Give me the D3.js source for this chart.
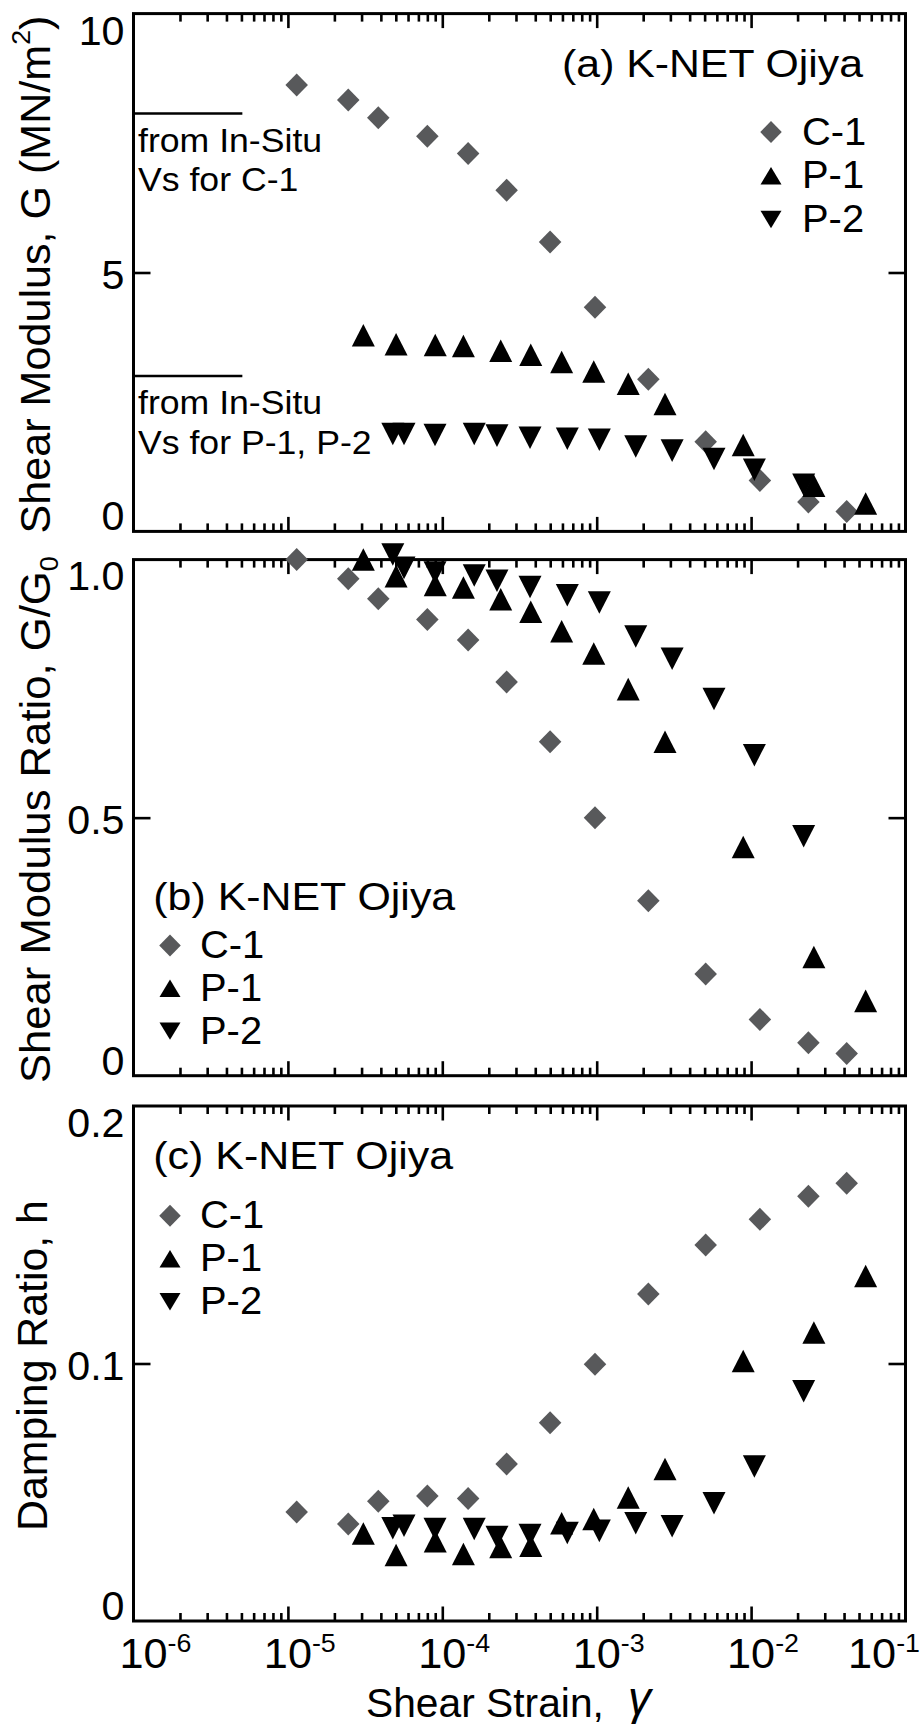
<!DOCTYPE html>
<html><head><meta charset="utf-8">
<script src="https://cdn.jsdelivr.net/npm/d3@7"></script>
<style>
body{margin:0;background:#fff}
svg{display:block}
text{font-family:"Liberation Sans",Arial,Helvetica,sans-serif;fill:#000}
</style>
</head><body>
<svg id="c" width="922" height="1726"></svg>
<script>
// ---------------- DATA ----------------
const seriesNames = ["C-1", "P-1", "P-2"];

const strainC1 = [1.14e-5, 2.46e-5, 3.85e-5, 8.0e-5, 1.47e-4, 2.61e-4, 4.99e-4, 9.75e-4, 2.16e-3, 5.08e-3, 1.14e-2, 2.35e-2, 4.16e-2];
const strainP1 = [3.08e-5, 5.02e-5, 9.0e-5, 1.37e-4, 2.39e-4, 3.74e-4, 5.93e-4, 9.57e-4, 1.60e-3, 2.77e-3, 8.89e-3, 2.55e-2, 5.52e-2];
const strainP2 = [4.78e-5, 5.65e-5, 8.97e-5, 1.61e-4, 2.26e-4, 3.70e-4, 6.45e-4, 1.04e-3, 1.79e-3, 3.08e-3, 5.75e-3, 1.05e-2, 2.19e-2];

// (a) Shear modulus G (MN/m2)
const gC1 = [8.62, 8.33, 7.99, 7.63, 7.30, 6.59, 5.59, 4.33, 2.94, 1.73, 0.985, 0.57, 0.386];
const gP1 = [3.79, 3.615, 3.60, 3.58, 3.49, 3.41, 3.27, 3.09, 2.85, 2.46, 1.67, 0.88, 0.54];
const gP2 = [1.88, 1.88, 1.86, 1.88, 1.85, 1.81, 1.79, 1.77, 1.64, 1.56, 1.40, 1.19, 0.90];

// (b) G/G0
const rC1 = [1.0, 0.963, 0.924, 0.884, 0.844, 0.763, 0.647, 0.50, 0.339, 0.197, 0.109, 0.064, 0.043];
const rP1 = [1.0, 0.968, 0.951, 0.946, 0.923, 0.899, 0.861, 0.818, 0.749, 0.647, 0.443, 0.230, 0.145];
const rP2 = [1.01, 0.984, 0.975, 0.969, 0.959, 0.947, 0.931, 0.917, 0.851, 0.808, 0.730, 0.621, 0.464];

// (c) damping ratio h
const hC1 = [0.0423, 0.0377, 0.0465, 0.0485, 0.0476, 0.061, 0.077, 0.0997, 0.127, 0.146, 0.156, 0.165, 0.170];
const hP1 = [0.034, 0.0256, 0.031, 0.026, 0.0287, 0.0292, 0.038, 0.0396, 0.048, 0.059, 0.101, 0.112, 0.134];
const hP2 = [0.036, 0.037, 0.0357, 0.0357, 0.0326, 0.0334, 0.0342, 0.035, 0.038, 0.0368, 0.0457, 0.060, 0.0892];

// in-situ Vs reference levels in (a)
const inSituG = [8.07, 3.0];
const inSituStrainEnd = 5.07e-6;
const inSituText = [["from In-Situ", "Vs for C-1"], ["from In-Situ", "Vs for P-1, P-2"]];

// axes
const xDecades = [-6, -5, -4, -3, -2, -1];
const yTicksA = [0, 5, 10],     yLabelsA = ["0", "5", "10"];
const yTicksB = [0, 0.5, 1.0],  yLabelsB = ["0", "0.5", "1.0"];
const yTicksC = [0, 0.1, 0.2],  yLabelsC = ["0", "0.1", "0.2"];
const panelTags = ["(a) K-NET Ojiya", "(b) K-NET Ojiya", "(c) K-NET Ojiya"];

// ---------------- LAYOUT ----------------
const svg = d3.select("#c");
const X0 = 133.5, X1 = 905.5;
const x = d3.scaleLog().domain([1e-6, 1e-1]).range([X0, X1]);
const GRAY = "#58595b";

function stretch(el, sx) {
  const t = d3.select(el);
  const px = +t.attr("x") || 0, py = +t.attr("y") || 0;
  t.attr("transform", `translate(${px},${py}) scale(${sx},1) translate(${-px},${-py})`);
}
function fitWidth(el, w) { stretch(el, w / el.getComputedTextLength()); }

function triType(dir, ratio) {
  return { draw(c, s) { const w = s / 2, h = s * ratio / 2;
    c.moveTo(0, -dir * h); c.lineTo(w, dir * h); c.lineTo(-w, dir * h); c.closePath(); } };
}
const diamondType = { draw(c, s) { const h = s / 2, w = s * 0.49;
  c.moveTo(0, -h); c.lineTo(w, 0); c.lineTo(0, h); c.lineTo(-w, 0); c.closePath(); } };
const plotTypes = [diamondType, triType(1, 0.98), triType(-1, 0.98)];
const legTypes  = [diamondType, triType(1, 0.83), triType(-1, 0.83)];
const fills = [GRAY, "#000", "#000"];
const strains = [strainC1, strainP1, strainP2];

const panels = [
  { top: 13.6, bottom: 531.4, domain: [0, 10], ticks: yTicksA, labels: yLabelsA, vals: [gC1, gP1, gP2],
    title: [["Shear Modulus, G (MN/m", 0], ["2", 1], [")", 0]], titleLen: 518, titleX: 50, titleSize: 42,
    tag: { x: 863, y: 77, anchor: "end", w: 301 },
    leg: { mx: 771, tx: 802, y0: 144.6, dy: 43.7 } },
  { top: 559.6, bottom: 1075.7, domain: [0, 1], ticks: yTicksB, labels: yLabelsB, vals: [rC1, rP1, rP2],
    title: [["Shear Modulus Ratio, G/G", 0], ["0", -1]], titleLen: 527, titleX: 50, titleSize: 42,
    tag: { x: 153.3, y: 909.6, anchor: "start", w: 302 },
    leg: { mx: 170, tx: 200, y0: 958, dy: 42.8 } },
  { top: 1106, bottom: 1621, domain: [0, 0.2], ticks: yTicksC, labels: yLabelsC, vals: [hC1, hP1, hP2],
    title: [["Damping Ratio, h", 0]], titleLen: 331, titleX: 47, titleSize: 43,
    tag: { x: 153.3, y: 1168.6, anchor: "start", w: 300 },
    leg: { mx: 170, tx: 200, y0: 1228.3, dy: 43 } }
];

// minor tick values
const minorVals = [];
xDecades.slice(0, -1).forEach(e => { for (let k = 2; k <= 9; k++) minorVals.push(k * Math.pow(10, e)); });
const majorVals = xDecades.slice(1, -1).map(e => Math.pow(10, e));

panels.forEach((p, pi) => {
  const y = d3.scaleLinear().domain(p.domain).range([p.bottom, p.top]);
  const g = svg.append("g");

  // x ticks (bottom & top, inward)
  const addAxis = (axis, ty) => {
    const a = g.append("g").attr("transform", `translate(0,${ty})`).call(axis);
    a.select(".domain").remove();
    a.selectAll("line").attr("stroke", "#000").attr("stroke-width", 2.6);
  };
  addAxis(d3.axisBottom(x).tickValues(majorVals).tickSize(-14.5).tickFormat(""), p.bottom);
  addAxis(d3.axisBottom(x).tickValues(minorVals).tickSize(-8).tickFormat(""), p.bottom);
  addAxis(d3.axisTop(x).tickValues(majorVals).tickSize(-14.5).tickFormat(""), p.top);
  addAxis(d3.axisTop(x).tickValues(minorVals).tickSize(-8).tickFormat(""), p.top);

  // y ticks: middle only, both sides
  const mid = [p.ticks[1]];
  const yl = g.append("g").attr("transform", `translate(${X0},0)`).call(d3.axisLeft(y).tickValues(mid).tickSize(-17).tickFormat(""));
  yl.select(".domain").remove(); yl.selectAll("line").attr("stroke", "#000").attr("stroke-width", 2.6);
  const yr = g.append("g").attr("transform", `translate(${X1},0)`).call(d3.axisRight(y).tickValues(mid).tickSize(-17).tickFormat(""));
  yr.select(".domain").remove(); yr.selectAll("line").attr("stroke", "#000").attr("stroke-width", 2.6);

  // y tick labels
  const lab = g.append("g").attr("transform", `translate(${X0},0)`)
    .call(d3.axisLeft(y).tickValues(p.ticks).tickSize(0).tickPadding(9).tickFormat((d, i) => p.labels[i]));
  lab.select(".domain").remove();
  lab.attr("font-family", null).attr("font-size", null);
  lab.selectAll("text").attr("font-size", 40).attr("fill", "#000")
    .attr("dy", (d, i) => i === 0 ? "-0.04em" : (i === p.ticks.length - 1 ? "0.76em" : "0.4em"))
    .each(function () { stretch(this, 1.03); });

  // frame
  g.append("rect").attr("x", X0).attr("y", p.top).attr("width", X1 - X0).attr("height", p.bottom - p.top)
    .attr("fill", "none").attr("stroke", "#000").attr("stroke-width", 3);

  // y title
  const cy = (p.top + p.bottom) / 2 + 2;
  const tt = g.append("text").attr("text-anchor", "middle").attr("font-size", p.titleSize);
  p.title.forEach(([s, k], j) => {
    const ts = tt.append("tspan").text(s);
    if (k === 1) ts.attr("font-size", "0.62em").attr("dy", "-0.75em");
    if (k === -1) ts.attr("font-size", "0.62em").attr("dy", "0.3em");
    if (j > 0 && p.title[j - 1][1] === 1 && k === 0) ts.attr("dy", "0.465em");
  });
  const sxT = p.titleLen / tt.node().getComputedTextLength();
  tt.attr("transform", `translate(${p.titleX},${cy}) rotate(-90) scale(${sxT},1)`);

  // in-situ lines (panel a)
  if (pi === 0) {
    inSituG.forEach((gv, k) => {
      g.append("line").attr("x1", x(1e-6)).attr("x2", x(inSituStrainEnd))
        .attr("y1", y(gv)).attr("y2", y(gv)).attr("stroke", "#000").attr("stroke-width", 2.6);
      inSituText[k].forEach((s, j) => {
        const t = g.append("text").attr("x", 138).attr("y", y(gv) + 38.2 + j * 39.3)
          .attr("font-size", 33).text(s);
        stretch(t.node(), 1.08);
      });
    });
  }

  // data markers
  strains.forEach((st, si) => {
    g.append("g").selectAll("path").data(d3.zip(st, p.vals[si])).join("path")
      .attr("transform", d => `translate(${x(d[0])},${y(d[1])})`)
      .attr("d", d3.symbol().type(plotTypes[si]).size(23))
      .attr("fill", fills[si]);
  });

  // panel tag
  const tg = g.append("text").attr("x", p.tag.x).attr("y", p.tag.y).attr("text-anchor", p.tag.anchor)
    .attr("font-size", 38).text(panelTags[pi]);
  fitWidth(tg.node(), p.tag.w);

  // legend
  seriesNames.forEach((nm, si) => {
    const by = p.leg.y0 + si * p.leg.dy;
    g.append("path").attr("transform", `translate(${p.leg.mx},${by - 12.5})`)
      .attr("d", d3.symbol().type(legTypes[si]).size(si === 0 ? 22 : 21)).attr("fill", fills[si]);
    const t = g.append("text").attr("x", p.leg.tx).attr("y", by).attr("font-size", 38).text(nm);
    stretch(t.node(), 1.05);
  });

  // x tick labels on bottom panel
  if (pi === panels.length - 1) {
    xDecades.forEach((e, k) => {
      const t = g.append("text").attr("y", 1668).attr("font-size", 42);
      const base = t.append("tspan").text("10");
      t.append("tspan").attr("font-size", 26).attr("dy", -16).text(String(e));
      const sx = 1.03;
      const w10 = base.node().getComputedTextLength() * sx;
      const wAll = t.node().getComputedTextLength() * sx;
      let lx = x(Math.pow(10, e)) - w10 / 2 + (k === 0 ? 10 : 0);
      if (lx + wAll > 920) lx = 920 - wAll;
      t.attr("x", lx);
      stretch(t.node(), sx);
    });
    const xt = g.append("text").attr("x", 366).attr("y", 1716.7).attr("font-size", 41).text("Shear Strain,");
    fitWidth(xt.node(), 238);
    g.append("text").attr("x", 628).attr("y", 1714).attr("font-size", 46)
      .attr("font-family", "'Liberation Serif','DejaVu Serif',serif").attr("font-style", "italic").text("γ");
  }
});
</script>
</body></html>
